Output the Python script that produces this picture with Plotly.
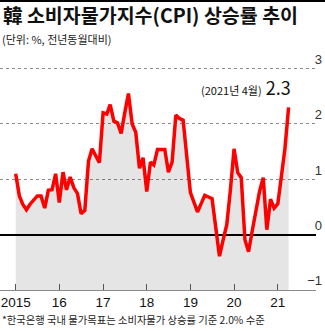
import plotly.graph_objects as go
import pandas as pd

# ---- data ----
CPI_2015 = [1.1, 0.7, 0.55, 0.45, 0.55, 0.62, 0.7, 0.7, 0.48, 0.8, 0.81, 1.1]
CPI_2016 = [0.58, 1.13, 0.81, 1.04, 0.85, 0.74, 0.38, 0.44, 1.33, 1.55, 1.42, 1.3]
CPI_2017 = [2.2, 2.18, 2.35, 2.05, 2.02, 1.83, 2.2, 2.55, 2.0, 1.85, 1.2, 1.39]
CPI_2018 = [0.78, 1.31, 1.26, 1.54, 1.54, 1.54, 1.13, 1.31, 2.16, 2.1, 2.07, 1.42]
CPI_2019 = [0.76, 0.58, 0.41, 0.56, 0.71, 0.68, 0.65, 0.13, -0.39, -0.1, 0.18, 0.8]
CPI_2020 = [1.55, 1.12, 1.03, -0.09, -0.31, 0.07, 0.46, 0.78, 1.03, 0.09, 0.64, 0.48]
CPI_2021 = [0.56, 1.05, 1.55, 2.3]
CPI = CPI_2015 + CPI_2016 + CPI_2017 + CPI_2018 + CPI_2019 + CPI_2020 + CPI_2021
MONTHS = pd.date_range("2015-01-01", periods=len(CPI), freq="MS")
BASELINE = -1

YEAR_TICKS = ["2015-01-01", "2016-01-01", "2017-01-01", "2018-01-01",
              "2019-01-01", "2020-01-01", "2021-01-01"]
YEAR_LABELS = ["2015", "16", "17", "18", "19", "20", "21"]
Y_TICKS = [-1, 0, 1, 2, 3]
Y_LABELS = ["\u22121", "0", "1", "2", "3"]

TITLE = "韓 소비자물가지수(CPI) 상승률 추이"
SUBTITLE = "(단위: %, 전년동월대비)"
NOTE = "*한국은행 국내 물가목표는 소비자물가 상승률 기준 2.0% 수준"
LAST_LABEL = "(2021년 4월)"

KR = "Noto Sans CJK KR"
NUM = "Liberation Sans, Arial, sans-serif"

W, H = 325, 331
PLOT_TOP, PLOT_BOTTOM = 52, 290


def py(Y):
    return (PLOT_BOTTOM - Y) / (PLOT_BOTTOM - PLOT_TOP)


fig = go.Figure()
fig.add_trace(go.Scatter(
    x=MONTHS, y=[BASELINE] * len(CPI), mode="lines",
    line=dict(width=0, color="rgba(0,0,0,0)"), hoverinfo="skip", showlegend=False))
fig.add_trace(go.Scatter(
    x=MONTHS, y=CPI, mode="lines", fill="tonexty",
    fillcolor="rgba(0,0,0,0.1)",
    line=dict(color="#ff0000", width=3.5), showlegend=False))

fig.update_layout(
    width=W, height=H,
    margin=dict(l=0, r=0, t=PLOT_TOP, b=H - PLOT_BOTTOM),
    paper_bgcolor="white", plot_bgcolor="white",
    showlegend=False,
    xaxis=dict(
        type="date",
        domain=[0, 316 / W],
        range=["2014-08-23", "2021-11-16"],
        tickvals=YEAR_TICKS, ticktext=YEAR_LABELS,
        ticklabelposition="outside", automargin=False,
        ticklabeloverflow="allow", ticklabelstandoff=0,
        ticks="inside", ticklen=6, tickcolor="#555", tickwidth=1,
        showline=True, linecolor="#8a8a8a", linewidth=1,
        showgrid=False, zeroline=False,
        tickfont=dict(family=NUM, size=13.5, color="#111"),
    ),
    yaxis=dict(
        range=[-1, 3.3],
        anchor="free", position=1, side="right",
        ticklabelposition="inside top", automargin=False,
        tickvals=Y_TICKS, ticktext=Y_LABELS,
        showgrid=True, gridcolor="#8c8c8c", griddash="dot", gridwidth=1,
        zeroline=True, zerolinecolor="#000", zerolinewidth=1.5,
        showline=False, ticks="",
        tickfont=dict(family=NUM, size=13, color="#333"),
    ),
)

fig.add_shape(type="line", xref="paper", yref="paper",
              x0=0, x1=1, y0=py(1), y1=py(1),
              line=dict(color="#000", width=2))

fig.add_annotation(text="<b>" + TITLE + "</b>", xref="paper", yref="paper",
                   x=0.003, y=py(14.5), xanchor="left", yanchor="middle",
                   showarrow=False, font=dict(family=KR, size=19.5, color="#111"))
fig.add_annotation(text=SUBTITLE, xref="paper", yref="paper",
                   x=0.0, y=py(39), xanchor="left", yanchor="middle",
                   showarrow=False, font=dict(family=KR, size=11, color="#222"))
fig.add_annotation(text=NOTE, xref="paper", yref="paper",
                   x=0.0, y=py(319), xanchor="left", yanchor="middle",
                   showarrow=False, font=dict(family=KR, size=10.3, color="#222"))
fig.add_annotation(
    text='<span style="font-size:11px">' + LAST_LABEL + '</span> ' + f"{CPI[-1]:.1f}",
    x=MONTHS[-1], y=CPI[-1], xref="x", yref="y",
    xanchor="right", yanchor="bottom", xshift=4, yshift=5,
    showarrow=False, font=dict(family=KR, size=18, color="#111"))

fig.write_html("out.html")
